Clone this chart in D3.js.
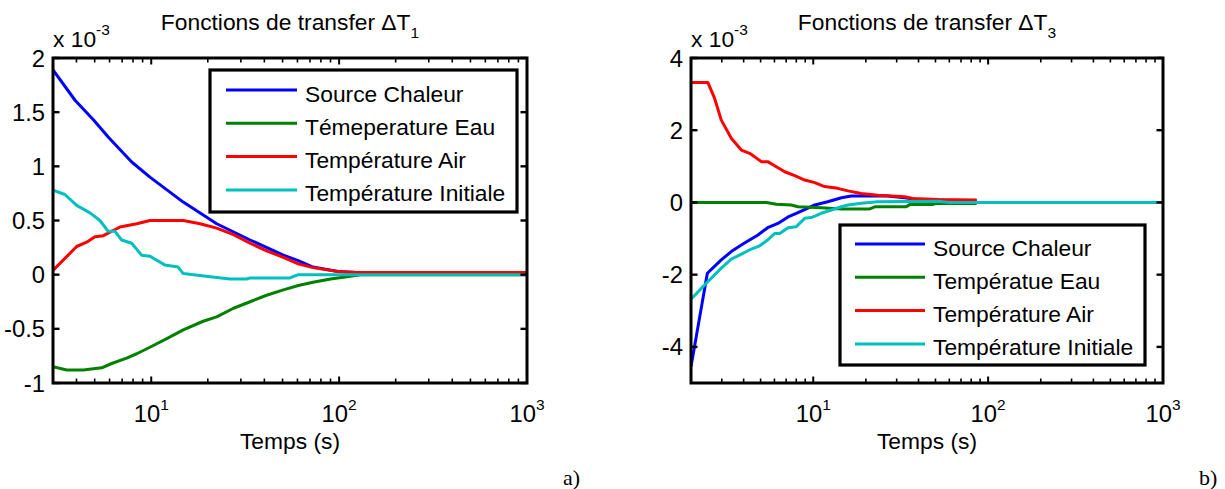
<!DOCTYPE html>
<html><head><meta charset="utf-8">
<script src="https://cdn.jsdelivr.net/npm/d3@7"></script>
<style>
html,body{margin:0;padding:0;background:#fff;}
svg{display:block;}
text{font-family:"Liberation Sans",Arial,Helvetica,sans-serif;fill:#000;}
</style></head>
<body>
<svg id="chart" width="1225" height="489"></svg>
<script>
// ---------- DATA (values in units of 1e-3) ----------
const seriesNames = ["Source Chaleur", "Témeperature Eau", "Température Air", "Température Initiale"];
const seriesNamesB = ["Source Chaleur", "Températue Eau", "Température Air", "Température Initiale"];
const seriesColors = ["#0000ff", "#008000", "#ff0000", "#00bfbf"];

// Panel a) ΔT1 : [time (s), value]
const aSource = [[3,1.89],[3.93,1.61],[4.92,1.43],[5.9,1.27],[7.87,1.04],[9.84,0.90],[14.8,0.67],[22.3,0.47],[33.6,0.32],[50.5,0.18],[60.6,0.13],[72.6,0.07],[98.7,0.03],[124,0.02],[1000,0.02]];
const aEau = [[3,-0.85],[3.55,-0.88],[4.35,-0.88],[5.45,-0.86],[6.16,-0.82],[7.4,-0.77],[8.37,-0.73],[9.84,-0.67],[12.1,-0.59],[14.8,-0.51],[18.9,-0.43],[22.3,-0.39],[27.4,-0.31],[33.6,-0.25],[41.1,-0.19],[50.5,-0.14],[60.6,-0.10],[72.6,-0.07],[90,-0.04],[110,-0.02],[130,0],[1000,0]];
const aAir = [[3,0.04],[4.01,0.26],[4.53,0.30],[5.02,0.35],[5.56,0.36],[6.82,0.44],[8.37,0.47],[9.84,0.50],[14.8,0.50],[18.2,0.47],[22.3,0.43],[27.4,0.37],[33.6,0.29],[41.1,0.22],[50.5,0.16],[60.6,0.10],[72.6,0.065],[98.7,0.03],[124,0.02],[1000,0.02]];
const aInit = [[3,0.78],[3.47,0.74],[4.01,0.64],[4.72,0.57],[5.33,0.50],[5.9,0.40],[6.41,0.40],[6.96,0.32],[7.87,0.29],[8.89,0.18],[9.84,0.17],[11.8,0.09],[13.9,0.07],[14.8,0.01],[20.6,-0.02],[26.2,-0.04],[32.2,-0.04],[33.6,-0.03],[54.7,-0.03],[60.6,0],[1000,0]];

// Panel b) ΔT3
const bSource = [[2,-4.55],[2.48,-1.96],[2.98,-1.59],[3.4,-1.36],[3.96,-1.15],[4.83,-0.90],[5.49,-0.70],[6.28,-0.58],[7.18,-0.40],[8.0,-0.30],[9.12,-0.18],[10.2,-0.07],[12.1,0.02],[14.5,0.13],[16.5,0.18],[26.7,0.18],[33.3,0.13],[41.5,0.07],[86,0.05]];
const bEau = [[2,0],[5.4,0],[6.15,-0.05],[7.48,-0.07],[8.18,-0.12],[11.1,-0.15],[14.5,-0.18],[21,-0.18],[22.5,-0.12],[34,-0.12],[35.6,-0.06],[48,-0.06],[50,-0.03],[86,-0.03]];
const bAir = [[2,3.32],[2.5,3.32],[2.73,2.88],[2.98,2.28],[3.4,1.78],[3.88,1.45],[4.33,1.36],[5.05,1.13],[5.49,1.13],[6.15,0.99],[6.87,0.85],[7.84,0.74],[8.94,0.62],[10.2,0.55],[11.6,0.44],[13.8,0.39],[15.8,0.32],[18.8,0.25],[23.4,0.20],[33.3,0.16],[37,0.11],[52,0.08],[86,0.07]];
const bInit = [[2,-2.68],[2.5,-2.19],[2.98,-1.82],[3.4,-1.57],[3.96,-1.41],[4.43,-1.29],[4.94,-1.20],[5.49,-1.04],[6.01,-0.86],[6.43,-0.86],[7.18,-0.70],[8.0,-0.67],[8.94,-0.44],[9.74,-0.42],[11.1,-0.30],[12.7,-0.21],[14.5,-0.12],[15.8,-0.07],[18.8,-0.02],[23.4,0.02],[51.6,0.03],[60,0],[1000,0]];

const aYTicks = [-1,-0.5,0,0.5,1,1.5,2];
const aYTickLabels = ["-1","-0.5","0","0.5","1","1.5","2"];
const bYTicks = [-4,-2,0,2,4];
const bYTickLabels = ["-4","-2","0","2","4"];
const xTicks = [10,100,1000];
const xTickExponents = ["1","2","3"];
const titles = ["1","3"]; // subscripts of ΔT
const panelTags = ["a)","b)"];

// ---------- DRAW ----------
const svg = d3.select("#chart");
svg.append("rect").attr("width",1225).attr("height",489).attr("fill","#fff");

const FS = 22.8;   // general text
const FT = 23.8;   // tick labels
const FSUP = 15.5; // super/subscripts

function panel(cfg){
  const {left, top, width, height, xDomain, yDomain, yTicks, yLabels, series, names, sub, legend, tag, tagX, id} = cfg;
  const x = d3.scaleLog().domain(xDomain).range([left, left+width]);
  const y = d3.scaleLinear().domain(yDomain).range([top+height, top]);
  const g = svg.append("g");

  g.append("clipPath").attr("id","clip"+id).append("rect")
    .attr("x",left).attr("y",top).attr("width",width).attr("height",height);

  // lines
  const line = d3.line().x(d=>x(d[0])).y(d=>y(d[1]));
  const lg = g.append("g").attr("clip-path","url(#clip"+id+")");
  series.forEach((s,i)=>{
    lg.append("path").datum(s).attr("d",line).attr("fill","none")
      .attr("stroke",seriesColors[i]).attr("stroke-width",3).attr("stroke-linejoin","round");
  });

  // ticks
  const minor = [];
  for (let e = Math.floor(Math.log10(xDomain[0])); e < 3; e++){
    for (let k = 2; k <= 9; k++){
      const v = k*Math.pow(10,e);
      if (v > xDomain[0] && v < xDomain[1]) minor.push(v);
    }
  }
  const tk = g.append("g").attr("stroke","#000").attr("stroke-width",1.6);
  minor.forEach(v=>{
    tk.append("line").attr("x1",x(v)).attr("x2",x(v)).attr("y1",top+height).attr("y2",top+height-4.5);
    tk.append("line").attr("x1",x(v)).attr("x2",x(v)).attr("y1",top).attr("y2",top+4.5);
  });
  xTicks.forEach(v=>{
    tk.append("line").attr("x1",x(v)).attr("x2",x(v)).attr("y1",top+height).attr("y2",top+height-6.5).attr("stroke-width",2);
    tk.append("line").attr("x1",x(v)).attr("x2",x(v)).attr("y1",top).attr("y2",top+6.5).attr("stroke-width",2);
  });
  yTicks.forEach(v=>{
    tk.append("line").attr("x1",left).attr("x2",left+6.5).attr("y1",y(v)).attr("y2",y(v)).attr("stroke-width",2.4);
    tk.append("line").attr("x1",left+width).attr("x2",left+width-6.5).attr("y1",y(v)).attr("y2",y(v)).attr("stroke-width",2.4);
  });

  // box
  g.append("rect").attr("x",left).attr("y",top).attr("width",width).attr("height",height)
    .attr("fill","none").attr("stroke","#000").attr("stroke-width",3);

  // y tick labels
  yTicks.forEach((v,i)=>{
    g.append("text").attr("x",left-8).attr("y",y(v)+8.5).attr("text-anchor","end")
      .attr("font-size",FT).text(yLabels[i]);
  });
  // x tick labels
  xTicks.forEach((v,i)=>{
    const t = g.append("text").attr("x",x(v)).attr("y",top+height+39).attr("text-anchor","middle").attr("font-size",FT);
    t.append("tspan").text("10");
    t.append("tspan").attr("dy",-12).attr("font-size",FSUP).text(xTickExponents[i]);
  });
  // multiplier
  const m = g.append("text").attr("x",left).attr("y",top-11).attr("font-size",FS);
  m.append("tspan").text("x 10");
  m.append("tspan").attr("dy",-12).attr("font-size",FSUP).text("-3");

  // title
  const tt = g.append("text").attr("x",left+width/2).attr("y",30).attr("text-anchor","middle").attr("font-size",FS);
  tt.append("tspan").text("Fonctions de transfer \u0394T");
  tt.append("tspan").attr("dy",8).attr("font-size",FSUP).text(sub);

  // x label
  g.append("text").attr("x",left+width/2).attr("y",449).attr("text-anchor","middle").attr("font-size",FS).text("Temps (s)");

  // tag
  g.append("text").attr("x",tagX).attr("y",485).attr("font-size",22)
    .style("font-family","'Liberation Serif','Times New Roman',serif").text(tag);

  // legend
  const L = legend;
  g.append("rect").attr("x",L.x).attr("y",L.y).attr("width",L.w).attr("height",L.h)
    .attr("fill","#fff").attr("stroke","#000").attr("stroke-width",3.2);
  names.forEach((n,i)=>{
    const ry = L.y + L.r0 + i*L.dr;
    g.append("line").attr("x1",L.x+L.l0).attr("x2",L.x+L.l1).attr("y1",ry).attr("y2",ry)
      .attr("stroke",seriesColors[i]).attr("stroke-width",3);
    g.append("text").attr("x",L.x+L.tx).attr("y",ry+11.5).attr("font-size",FS).text(n);
  });
}

panel({id:"a", left:53, top:58, width:474, height:325, xDomain:[3,1000], yDomain:[-1,2],
  yTicks:aYTicks, yLabels:aYTickLabels, series:[aSource,aEau,aAir,aInit], names:seriesNames, sub:titles[0],
  legend:{x:210,y:70,w:307,h:142,r0:20,dr:33.3,l0:16,l1:87,tx:95}, tag:panelTags[0], tagX:563});

panel({id:"b", left:691, top:58, width:472, height:325, xDomain:[2,1000], yDomain:[-5,4],
  yTicks:bYTicks, yLabels:bYTickLabels, series:[bSource,bEau,bAir,bInit], names:seriesNamesB, sub:titles[1],
  legend:{x:840,y:225,w:305,h:140,r0:19,dr:33.3,l0:15,l1:85,tx:93}, tag:panelTags[1], tagX:1199});
</script>
</body></html>
